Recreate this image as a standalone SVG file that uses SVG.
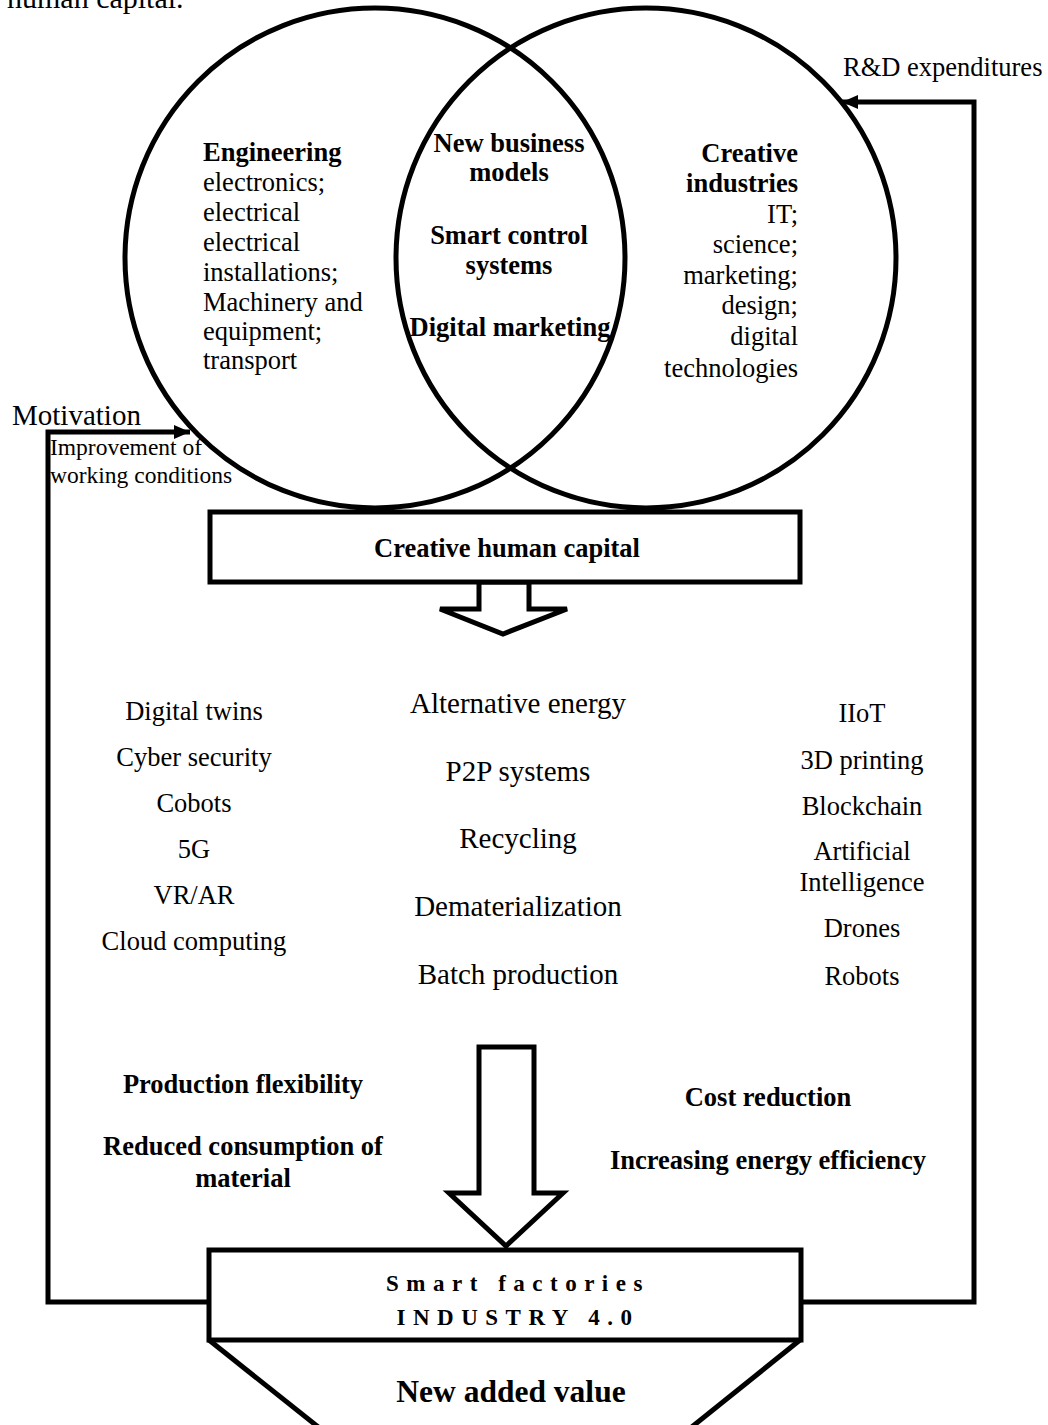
<svg xmlns="http://www.w3.org/2000/svg" width="1048" height="1425" viewBox="0 0 1048 1425">
<style>
.t{font-family:"Liberation Serif","Times New Roman",serif;fill:#000}
.n{font-size:26.5px}
.m{font-size:29px}
.b{font-weight:bold;font-size:26.5px}
.bs{font-weight:bold;font-size:26.5px}
.c{text-anchor:middle}
.r{text-anchor:end}
.ln{fill:none;stroke:#000;stroke-width:5}
.bx{fill:#fff;stroke:#000;stroke-width:5}
.sp{font-weight:bold;font-size:23px;letter-spacing:7.5px}
</style>
<defs>
<marker id="ah" markerUnits="userSpaceOnUse" markerWidth="18" markerHeight="16" refX="16" refY="8" orient="auto">
<path d="M0,1 L16,8 L0,15 Z" fill="#000"/>
</marker>
</defs>
<text class="t" x="7" y="8" style="font-size:30px">human capital.</text>
<g id="connectors">
<polyline class="ln" points="208,1302 48,1302 48,432 190,432" marker-end="url(#ah)"/>
<polyline class="ln" points="800,1302 974,1302 974,102 842,102" marker-end="url(#ah)"/>
<polygon class="bx" points="479,582 529,582 529,609 567,609 503,634 440,609 479,609"/>
<polygon class="bx" points="479,1047 534,1047 534,1193 563,1193 506,1246 449,1193 479,1193"/>
</g>
<g id="circle-engineering">
<circle class="ln" cx="375" cy="258" r="250"/>
<text class="t b" x="203" y="161">Engineering</text>
<text class="t n" x="203" y="191">electronics;</text>
<text class="t n" x="203" y="221">electrical</text>
<text class="t n" x="203" y="251">electrical</text>
<text class="t n" x="203" y="281">installations;</text>
<text class="t n" x="203" y="311">Machinery and</text>
<text class="t n" x="203" y="340">equipment;</text>
<text class="t n" x="203" y="369">transport</text>
</g>
<g id="circle-creative">
<circle class="ln" cx="646" cy="258" r="250"/>
<text class="t b r" x="798" y="162">Creative</text>
<text class="t b r" x="798" y="192">industries</text>
<text class="t n r" x="798" y="223">IT;</text>
<text class="t n r" x="798" y="253">science;</text>
<text class="t n r" x="798" y="284">marketing;</text>
<text class="t n r" x="798" y="314">design;</text>
<text class="t n r" x="798" y="345">digital</text>
<text class="t n r" x="798" y="377">technologies</text>
</g>
<g id="intersection">
<text class="t b c" x="509" y="152">New business</text>
<text class="t b c" x="509" y="181">models</text>
<text class="t b c" x="509" y="244">Smart control</text>
<text class="t b c" x="509" y="274">systems</text>
<text class="t b c" x="510" y="336">Digital marketing</text>
</g>
<g id="motivation">
<text class="t" x="12" y="425" style="font-size:29px">Motivation</text>
<text class="t" x="50" y="455" style="font-size:23.5px">Improvement of</text>
<text class="t" x="50" y="483" style="font-size:23.5px">working conditions</text>
</g>
<g id="rd">
<text class="t n" x="843" y="76">R&amp;D expenditures</text>
</g>
<g id="creative-human-capital">
<rect class="bx" x="210" y="512" width="590" height="70"/>
<text class="t b c" x="507" y="557">Creative human capital</text>
</g>
<g id="tech-left">
<text class="t n c" x="194" y="720">Digital twins</text>
<text class="t n c" x="194" y="766">Cyber security</text>
<text class="t n c" x="194" y="812">Cobots</text>
<text class="t n c" x="194" y="858">5G</text>
<text class="t n c" x="194" y="904">VR/AR</text>
<text class="t n c" x="194" y="950">Cloud computing</text>
</g>
<g id="tech-middle">
<text class="t m c" x="518" y="713">Alternative energy</text>
<text class="t m c" x="518" y="781">P2P systems</text>
<text class="t m c" x="518" y="848">Recycling</text>
<text class="t m c" x="518" y="916">Dematerialization</text>
<text class="t m c" x="518" y="984">Batch production</text>
</g>
<g id="tech-right">
<text class="t n c" x="862" y="722">IIoT</text>
<text class="t n c" x="862" y="769">3D printing</text>
<text class="t n c" x="862" y="815">Blockchain</text>
<text class="t n c" x="862" y="860">Artificial</text>
<text class="t n c" x="862" y="891">Intelligence</text>
<text class="t n c" x="862" y="937">Drones</text>
<text class="t n c" x="862" y="985">Robots</text>
</g>
<g id="benefits-left">
<text class="t bs c" x="243" y="1093">Production flexibility</text>
<text class="t bs c" x="243" y="1155">Reduced consumption of</text>
<text class="t bs c" x="243" y="1187">material</text>
</g>
<g id="benefits-right">
<text class="t bs c" x="768" y="1106">Cost reduction</text>
<text class="t bs c" x="768" y="1169">Increasing energy efficiency</text>
</g>
<g id="smart-factories">
<rect class="bx" x="209" y="1250" width="592" height="90"/>
<text class="t c sp" x="518" y="1291">Smart factories</text>
<text class="t c sp" x="518" y="1325">INDUSTRY 4.0</text>
</g>
<g id="new-added-value">
<polyline class="ln" points="322,1430 209,1340"/>
<polyline class="ln" points="688,1430 800,1340"/>
<text class="t c" x="511" y="1402" style="font-weight:bold;font-size:31.5px">New added value</text>
</g>
</svg>
